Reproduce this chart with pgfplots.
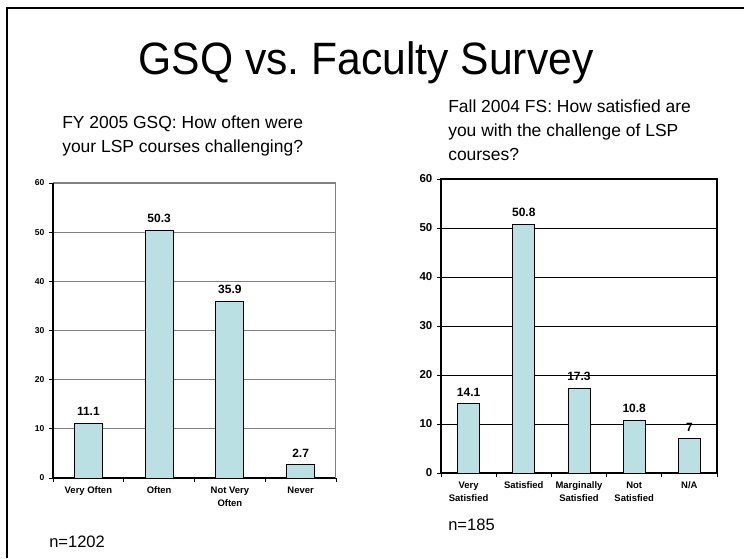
\documentclass[border=0pt]{standalone}
\usepackage{pgfplots}
\pgfplotsset{compat=1.18}
\usepackage{fontspec}
\setmainfont{Liberation Sans}
\frenchspacing
\definecolor{barfill}{RGB}{187,224,227}
\begin{document}
\begin{tikzpicture}[x=0.75pt,y=0.75pt]
\path[use as bounding box] (0,0) rectangle (744,558);
\coordinate (LA) at (53,80);
\coordinate (RA) at (441,85);
\draw[line width=1.5pt] (7,0) -- (7,550) -- (744,550);
\node[anchor=base, inner sep=0, xscale=0.94, font=\fontsize{34}{40}\selectfont] at (366,483) {GSQ vs.\ Faculty Survey};
\node[anchor=base west, inner sep=0, font=\fontsize{13.1}{16}\selectfont] at (62,429) {FY 2005 GSQ: How often were};
\node[anchor=base west, inner sep=0, font=\fontsize{13.1}{16}\selectfont] at (62,405) {your LSP courses challenging?};
\node[anchor=base west, inner sep=0, font=\fontsize{13.1}{16}\selectfont] at (448,445) {Fall 2004 FS: How satisfied are};
\node[anchor=base west, inner sep=0, font=\fontsize{13.1}{16}\selectfont] at (448,421) {you with the challenge of LSP};
\node[anchor=base west, inner sep=0, font=\fontsize{13.1}{16}\selectfont] at (448,397) {courses?};
\node[anchor=base west, inner sep=0, font=\fontsize{12.4}{15}\selectfont] at (49,11) {n=1202};
\node[anchor=base west, inner sep=0, font=\fontsize{12.4}{15}\selectfont] at (448,27) {n=185};

\begin{axis}[at={(LA)}, anchor=south west, scale only axis,
  width=212.25pt, height=221.25pt,
  /pgf/number format/assume math mode=true,
  xmin=-0.5, xmax=3.5, ymin=0, ymax=60,
  ytick={0,10,...,60},
  xtick={0,1,2,3},
  xticklabels={{Very Often},{Often},{Not Very\\Often},{Never}},
  major x tick style={draw=none},
  minor xtick={-0.5,0.5,1.5,2.5,3.5},
  minor tick length=3pt, major tick length=3pt,
  tick align=outside, tick pos=left,
  tick style={black, line width=0.6pt},
  axis x line*=bottom, axis y line*=left,
  axis line style={-, black, line width=0.8pt},
  ymajorgrids, grid style={gray, line width=0.9pt},
  xticklabel style={align=center, font=\bfseries\fontsize{7.1}{10}\selectfont},
  yticklabel style={font=\bfseries\fontsize{6.4}{8}\selectfont},
  nodes near coords,
  every node near coord/.append style={font=\bfseries\fontsize{9}{10}\selectfont, yshift=2pt},
  ybar, bar width=21pt,
]
\addplot[fill=barfill, draw=black, line width=0.7pt] coordinates {(0,11.1) (1,50.3) (2,35.9) (3,2.7)};
\draw[gray, line width=0.8pt] (rel axis cs:1,0) -- (rel axis cs:1,1);
\end{axis}

\begin{axis}[at={(RA)}, anchor=south west, scale only axis,
  width=207pt, height=220.5pt,
  /pgf/number format/assume math mode=true,
  xmin=-0.5, xmax=4.5, ymin=0, ymax=60,
  ytick={0,10,...,60},
  xtick={0,1,2,3,4},
  xticklabels={{Very\\Satisfied},{Satisfied},{Marginally\\Satisfied},{Not\\Satisfied},{N/A}},
  major x tick style={draw=none},
  minor xtick={-0.5,0.5,1.5,2.5,3.5,4.5},
  minor tick length=3pt, major tick length=3pt,
  tick align=outside, tick pos=left,
  tick style={black, line width=0.6pt},
  axis line style={black, line width=0.8pt},
  ymajorgrids, grid style={black, line width=0.6pt},
  xticklabel style={align=center, font=\bfseries\fontsize{7.1}{10}\selectfont},
  yticklabel style={font=\bfseries\fontsize{8.6}{10}\selectfont},
  nodes near coords,
  every node near coord/.append style={font=\bfseries\fontsize{9}{10}\selectfont, yshift=2pt},
  ybar, bar width=16.5pt,
]
\addplot[fill=barfill, draw=black, line width=0.7pt] coordinates {(0,14.1) (1,50.8) (2,17.3) (3,10.8) (4,7)};
\end{axis}
\end{tikzpicture}
\end{document}
